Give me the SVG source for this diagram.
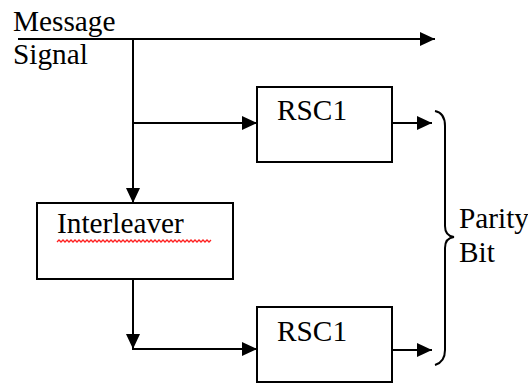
<svg xmlns="http://www.w3.org/2000/svg" width="528" height="383" viewBox="0 0 528 383">
  <style>
    .box { fill: #ffffff; stroke: #000000; stroke-width: 2; }
    .wire { fill: none; stroke: #000000; stroke-width: 2; }
    .lbl { font-family: 'Liberation Serif', 'Times New Roman', serif; font-size: 29.3px; fill: #000000; }
  </style>
  <defs>
    <marker id="arrow" markerUnits="userSpaceOnUse" markerWidth="15" markerHeight="14" refX="15" refY="7" orient="auto">
      <path d="M0,0 L15,7 L0,14 z" fill="#000000"/>
    </marker>
  </defs>
  <rect width="528" height="383" fill="#ffffff"/>

  <!-- input label -->
  <g id="message-signal">
    <text class="lbl" x="13" y="31">Message</text>
    <text class="lbl" x="13" y="64">Signal</text>
  </g>

  <!-- connectors -->
  <g id="connectors">
    <line class="wire" x1="18" y1="39" x2="435" y2="39" marker-end="url(#arrow)"/>
    <line class="wire" x1="133" y1="39" x2="133" y2="203" marker-end="url(#arrow)"/>
    <line class="wire" x1="133" y1="123" x2="257" y2="123" marker-end="url(#arrow)"/>
    <line class="wire" x1="392" y1="123" x2="432" y2="123" marker-end="url(#arrow)"/>
    <line class="wire" x1="133" y1="279" x2="133" y2="349" marker-end="url(#arrow)"/>
    <line class="wire" x1="132" y1="349" x2="257" y2="349" marker-end="url(#arrow)"/>
    <line class="wire" x1="392" y1="350" x2="432" y2="350" marker-end="url(#arrow)"/>
  </g>

  <!-- encoder 1 -->
  <g id="rsc1-top">
    <rect class="box" x="257" y="87" width="135" height="75"/>
    <text class="lbl" x="277" y="120">RSC1</text>
  </g>

  <!-- interleaver -->
  <g id="interleaver">
    <rect class="box" x="37" y="203" width="196" height="76"/>
    <text class="lbl" x="57" y="233">Interleaver</text>
    <path d="M57,242 l2,-2 l2,2 l2,-2 l2,2 l2,-2 l2,2 l2,-2 l2,2 l2,-2 l2,2 l2,-2 l2,2 l2,-2 l2,2 l2,-2 l2,2 l2,-2 l2,2 l2,-2 l2,2 l2,-2 l2,2 l2,-2 l2,2 l2,-2 l2,2 l2,-2 l2,2 l2,-2 l2,2 l2,-2 l2,2 l2,-2 l2,2 l2,-2 l2,2 l2,-2 l2,2 l2,-2 l2,2 l2,-2 l2,2 l2,-2 l2,2 l2,-2 l2,2 l2,-2 l2,2 l2,-2 l2,2 l2,-2 l2,2 l2,-2 l2,2 l2,-2 l2,2 l2,-2 l2,2 l2,-2 l2,2 l2,-2 l2,2 l2,-2 l2,2 l2,-2 l2,2 l2,-2 l2,2 l2,-2 l2,2 l2,-2 l2,2 l2,-2 l2,2 l2,-2 l2,2 l2,-2" fill="none" stroke="#ff2020" stroke-width="1.3"/>
  </g>

  <!-- encoder 2 -->
  <g id="rsc1-bottom">
    <rect class="box" x="257" y="307" width="135" height="75"/>
    <text class="lbl" x="277" y="341">RSC1</text>
  </g>

  <!-- brace grouping both encoder outputs -->
  <g id="parity-bit">
    <path class="wire" d="M435,111 Q445,113 445,126 L445,226 Q445,236 454,237 Q445,238 445,248 L445,350 Q445,362 435,365"/>
    <text class="lbl" x="459" y="228">Parity</text>
    <text class="lbl" x="459" y="262">Bit</text>
  </g>
</svg>
